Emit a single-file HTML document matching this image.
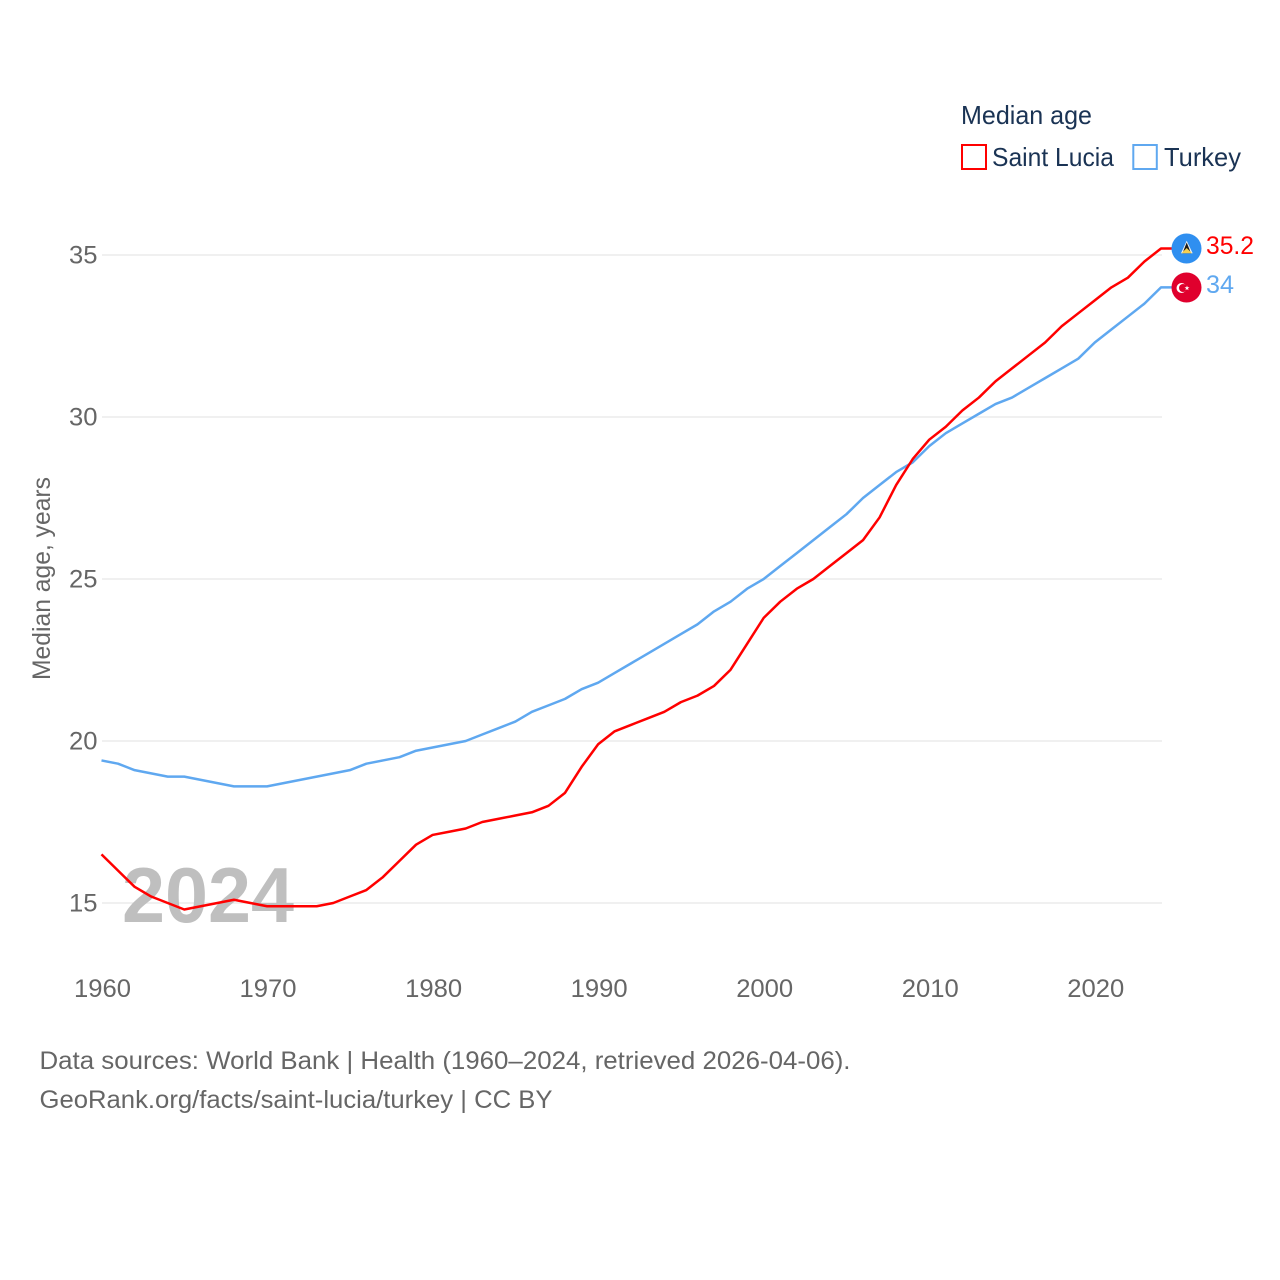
<!DOCTYPE html>
<html lang="en">
<head>
<meta charset="utf-8">
<title>Median age: Saint Lucia and Turkey</title>
<style>
html,body{margin:0;padding:0;background:#fff;}
svg{display:block;}
text{font-family:"Liberation Sans",sans-serif;}
</style>
</head>
<body>
<svg id="chart" xmlns="http://www.w3.org/2000/svg" width="1280" height="1280" viewBox="0 0 1280 1280">
  <rect x="0" y="0" width="1280" height="1280" fill="#ffffff"/>
  <g id="grid"></g>
  <text x="122" y="922" font-size="78" font-weight="700" fill="#bfbfbf" textLength="172" lengthAdjust="spacingAndGlyphs">2024</text>
  <g id="yticks"></g>
  <g id="xticks"></g>
  <text transform="translate(50,680) rotate(-90)" font-size="25" fill="#666666" textLength="203" lengthAdjust="spacingAndGlyphs">Median age, years</text>
  <g id="series"></g>

  <g>
    <text x="961" y="124" font-size="26" fill="#1a3354" textLength="131" lengthAdjust="spacingAndGlyphs">Median age</text>
    <rect x="962" y="145" width="24" height="24" fill="none" stroke="#ff0000" stroke-width="2"/>
    <text x="992" y="166" font-size="26" fill="#1a3354" textLength="122" lengthAdjust="spacingAndGlyphs">Saint Lucia</text>
    <rect x="1133.300" y="145" width="23.500" height="24" fill="none" stroke="#5fa8f0" stroke-width="2"/>
    <text x="1164" y="166" font-size="26" fill="#1a3354" textLength="77" lengthAdjust="spacingAndGlyphs">Turkey</text>
  </g>

  <g id="flag-lc">
    <circle cx="1186.500" cy="248.500" r="15" fill="#2f8ff0"/>
    <polygon points="1186.700,240.700 1181,253.300 1192.700,253.300" fill="#f2f2f2"/>
    <polygon points="1186.700,242.500 1182.500,253.300 1191,253.300" fill="#1a1a1a"/>
    <polygon points="1186.700,248 1181.500,253.300 1192,253.300" fill="#f5cf50"/>
  </g>
  <g id="flag-tr">
    <circle cx="1186.500" cy="287.500" r="15" fill="#e0002d"/>
    <circle cx="1181.500" cy="288" r="5" fill="#ffffff"/>
    <circle cx="1183" cy="288" r="4" fill="#e0002d"/>
    <polygon points="1187,285.500 1187.600,287.300 1189.500,287.300 1188,288.400 1188.500,290.200 1187,289.100 1185.500,290.200 1186,288.400 1184.500,287.300 1186.400,287.300" fill="#ffffff"/>
  </g>
  <text x="1206" y="254" font-size="25" fill="#ff0000" textLength="48" lengthAdjust="spacingAndGlyphs">35.2</text>
  <text x="1206" y="293" font-size="25" fill="#5fa8f0" textLength="28" lengthAdjust="spacingAndGlyphs">34</text>

  <g>
    <text x="39.500" y="1069" font-size="25" fill="#666666" textLength="811" lengthAdjust="spacingAndGlyphs">Data sources: World Bank | Health (1960–2024, retrieved 2026-04-06).</text>
    <text x="39.500" y="1108" font-size="25" fill="#666666" textLength="513" lengthAdjust="spacingAndGlyphs">GeoRank.org/facts/saint-lucia/turkey | CC BY</text>
  </g>
</svg>
<script>
const years = [1960,1961,1962,1963,1964,1965,1966,1967,1968,1969,1970,1971,1972,1973,1974,1975,1976,1977,1978,1979,1980,1981,1982,1983,1984,1985,1986,1987,1988,1989,1990,1991,1992,1993,1994,1995,1996,1997,1998,1999,2000,2001,2002,2003,2004,2005,2006,2007,2008,2009,2010,2011,2012,2013,2014,2015,2016,2017,2018,2019,2020,2021,2022,2023,2024];
const saintLucia = [16.5,16.0,15.5,15.2,15.0,14.8,14.9,15.0,15.1,15.0,14.9,14.9,14.9,14.9,15.0,15.2,15.4,15.8,16.3,16.8,17.1,17.2,17.3,17.5,17.6,17.7,17.8,18.0,18.4,19.2,19.9,20.3,20.5,20.7,20.9,21.2,21.4,21.7,22.2,23.0,23.8,24.3,24.7,25.0,25.4,25.8,26.2,26.9,27.9,28.7,29.3,29.7,30.2,30.6,31.1,31.5,31.9,32.3,32.8,33.2,33.6,34.0,34.3,34.8,35.2];
const turkey = [19.4,19.3,19.1,19.0,18.9,18.9,18.8,18.7,18.6,18.6,18.6,18.7,18.8,18.9,19.0,19.1,19.3,19.4,19.5,19.7,19.8,19.9,20.0,20.2,20.4,20.6,20.9,21.1,21.3,21.6,21.8,22.1,22.4,22.7,23.0,23.3,23.6,24.0,24.3,24.7,25.0,25.4,25.8,26.2,26.6,27.0,27.5,27.9,28.3,28.6,29.1,29.5,29.8,30.1,30.4,30.6,30.9,31.2,31.5,31.8,32.3,32.7,33.1,33.5,34.0];
const yTickValues = [15,20,25,30,35];
const xTickValues = [1960,1970,1980,1990,2000,2010,2020];

const SVG_NS = 'http://www.w3.org/2000/svg';
const xScale = function (year) { return 101.5 + (year - 1960) * (1059.5 / 64); };
const yScale = function (value) { return 903 - (value - 15) * 32.4; };

function make(tag, parent, attrs, content) {
  const el = document.createElementNS(SVG_NS, tag);
  Object.keys(attrs).forEach(function (k) { el.setAttribute(k, attrs[k]); });
  if (content !== undefined) el.textContent = content;
  parent.appendChild(el);
  return el;
}

const gridGroup = document.getElementById('grid');
const yTickGroup = document.getElementById('yticks');
const xTickGroup = document.getElementById('xticks');
const seriesGroup = document.getElementById('series');

yTickValues.forEach(function (v) {
  const line = make('line', gridGroup, {x1: 102, x2: 1162, y1: yScale(v), y2: yScale(v), stroke: '#ebebeb', 'stroke-width': 1.5});
  
  
  const label = make('text', yTickGroup, {x: 97.5, y: yScale(v) + 8.5, 'text-anchor': 'end', 'font-size': 25, fill: '#666666', textLength: 28.5, lengthAdjust: 'spacingAndGlyphs'}, String(v));
  
  
});

xTickValues.forEach(function (y) {
  const label = make('text', xTickGroup, {x: xScale(y) + 1, y: 997, 'text-anchor': 'middle', 'font-size': 25, fill: '#666666', textLength: 57, lengthAdjust: 'spacingAndGlyphs'}, String(y));
  
  
});

function linePoints(values) {
  const pts = values.map(function (v, i) { return xScale(years[i]).toFixed(2) + ',' + yScale(v).toFixed(2); });
  const last = values[values.length - 1];
  pts.push('1172,' + yScale(last).toFixed(2));
  return pts.join(' ');
}

const turkeyLine = make('polyline', seriesGroup, {points: linePoints(turkey), fill: 'none', stroke: '#5fa8f0', 'stroke-width': 2.5, 'stroke-linejoin': 'round'});



const saintLuciaLine = make('polyline', seriesGroup, {points: linePoints(saintLucia), fill: 'none', stroke: '#ff0000', 'stroke-width': 2.5, 'stroke-linejoin': 'round'});


</script>
</body>
</html>
